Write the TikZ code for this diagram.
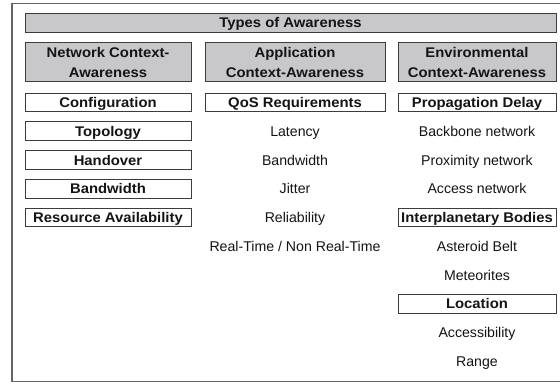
\documentclass[tikz,border=0pt]{standalone}
\usepackage{fontspec}
\setmainfont{Liberation Sans}
\newfontfamily\bfw{Liberation Sans}[FakeStretch=1.06]
\definecolor{headfill}{RGB}{200,200,203}
\definecolor{boxline}{RGB}{60,60,60}
\definecolor{framecol}{RGB}{100,100,100}
\definecolor{txt}{RGB}{20,20,20}
\begin{document}
\begin{tikzpicture}[x=0.75pt,y=-0.75pt,
  every node/.style={inner sep=0pt, outer sep=0pt, text=txt},
  framebox/.style={draw=boxline, line width=0.75pt, minimum height=13.9pt,
    text height=7.5pt, text depth=0pt,
    font=\bfw\bfseries\fontsize{10.5pt}{12pt}\selectfont},
  headbox/.style={draw=boxline, fill=headfill, line width=0.75pt,
    minimum height=29.5pt, align=center,
    font=\bfw\bfseries\fontsize{10.5pt}{15pt}\selectfont},
  plain/.style={text height=7.5pt, text depth=0pt,
    font=\fontsize{10.6pt}{12pt}\selectfont},
  colA/.style={minimum width=124.5pt},
  colB/.style={minimum width=135pt},
  colC/.style={minimum width=118.5pt}]
\useasboundingbox (0,0) rectangle (560,383);
\fill[white] (0,0) rectangle (560,383);
\draw[framecol, line width=0.9pt] (575,3.5) -| (12,381.5) -- (575,381.5);
% title
\node[headbox, minimum width=398.25pt, minimum height=14.25pt,
  text height=7.5pt, text depth=0pt] (title) at (290.5,22.5) {Types of Awareness};
% headers
\node[headbox, colA] (hA) at (108,62.3) {Network Context-\\Awareness};
\node[headbox, colB] (hB) at (295,62.3) {Application\\Context-Awareness};
\node[headbox, colC] (hC) at (477,62.3) {Environmental\\Context-Awareness};
% column A
\node[framebox, colA] (a0) at (108,102.5) {Configuration};
\node[framebox, colA] (a1) at (108,131.25) {Topology};
\node[framebox, colA] (a2) at (108,160) {Handover};
\node[framebox, colA] (a3) at (108,188.75) {Bandwidth};
\node[framebox, colA] (a4) at (108,217.5) {Resource Availability};
% column B
\node[framebox, colB] (b0) at (295,102.5) {QoS Requirements};
\node[plain] (b1) at (295,131.25) {Latency};
\node[plain] (b2) at (295,160) {Bandwidth};
\node[plain] (b3) at (295,188.75) {Jitter};
\node[plain] (b4) at (295,217.5) {Reliability};
\node[plain] (b5) at (295,246.25) {Real-Time / Non Real-Time};
% column C
\node[framebox, colC] (c0) at (477,102.5) {Propagation Delay};
\node[plain] (c1) at (477,131.25) {Backbone network};
\node[plain] (c2) at (477,160) {Proximity network};
\node[plain] (c3) at (477,188.75) {Access network};
\node[framebox, colC] (c4) at (477,217.5) {Interplanetary Bodies};
\node[plain] (c5) at (477,246.25) {Asteroid Belt};
\node[plain] (c6) at (477,275) {Meteorites};
\node[framebox, colC] (c7) at (477,303.75) {Location};
\node[plain] (c8) at (477,332.5) {Accessibility};
\node[plain] (c9) at (477,361.25) {Range};
\end{tikzpicture}
\end{document}
